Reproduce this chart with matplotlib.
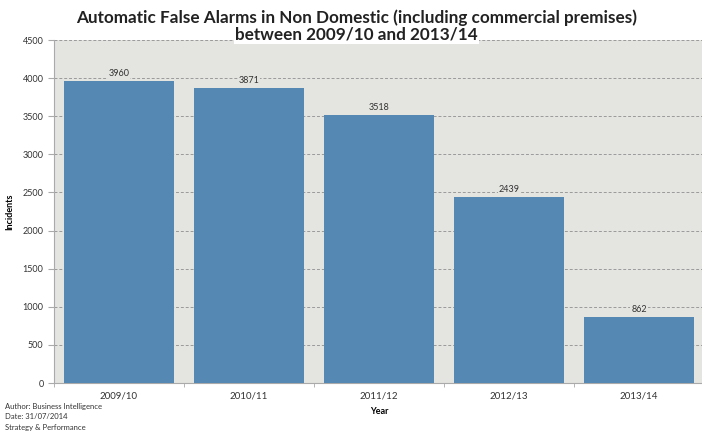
import matplotlib.pyplot as plt

years = ['2009/10', '2010/11', '2011/12', '2012/13', '2013/14']
incidents = [3960, 3871, 3518, 2439, 862]
footer_lines = ['Author: Business Intelligence', 'Date: 31/07/2014', 'Strategy & Performance']

plt.rcParams['font.family'] = ['Lato', 'DejaVu Sans']

bar_color = '#5688b4'
bg_color = '#e4e4e0'

fig = plt.figure(figsize=(7.02, 4.36), dpi=100)
ax = fig.add_axes([54 / 702, 53 / 436, 650 / 702, 343 / 436])
ax.set_facecolor(bg_color)

x = range(len(years))
ax.bar(x, incidents, width=0.845, color=bar_color, zorder=3)

for xi, val in zip(x, incidents):
    ax.text(xi, val + 40, str(val), ha='center', va='bottom', fontsize=6.5,
            color='#333333', zorder=4,
            bbox=dict(facecolor=bg_color, edgecolor='none', pad=0.5))

ax.set_xlim(-0.5, 4.5)
ax.set_ylim(0, 4500)
ax.set_yticks(range(0, 4501, 500))
ax.set_xticks(list(x))
ax.set_xticklabels(years, fontsize=7, color='#333333')
ax.set_xticks([i + 0.5 for i in range(-1, 5)], minor=True)
ax.tick_params(axis='x', which='major', length=0, pad=6)
ax.tick_params(axis='x', which='minor', length=3, color='#aaaaaa')
ax.tick_params(axis='y', labelsize=6.5, labelcolor='#333333', length=4, color='#aaaaaa')

ax.yaxis.grid(True, linestyle=(0, (3, 2)), color='#9a9a9a', linewidth=0.7, zorder=1)
for side in ['top', 'right']:
    ax.spines[side].set_visible(False)
for side in ['left', 'bottom']:
    ax.spines[side].set_color('#aaaaaa')
    ax.spines[side].set_linewidth(0.8)

ax.set_ylabel('Incidents', fontsize=6.5, fontweight='bold', labelpad=6)
ax.set_xlabel('Year', fontsize=6.5, fontweight='bold', labelpad=5)

# two-line title; the second line breaks the top gridline
title_style = dict(ha='center', fontsize=12.3, fontweight='bold',
                   color='#222222', zorder=10)
fig.text(0.508, 1 - 18 / 436,
         'Automatic False Alarms in Non Domestic (including commercial premises)',
         va='center', **title_style)
fig.text(0.508, 1 - 40 / 436, 'between 2009/10 and 2013/14', va='baseline',
         bbox=dict(facecolor='white', edgecolor='none', pad=0.6), **title_style)

for i, line in enumerate(footer_lines):
    fig.text(5 / 702, 1 - (406 + i * 10.5) / 436, line, fontsize=5.5,
             color='#333333', va='center')

fig.savefig('out.png', dpi=100)
